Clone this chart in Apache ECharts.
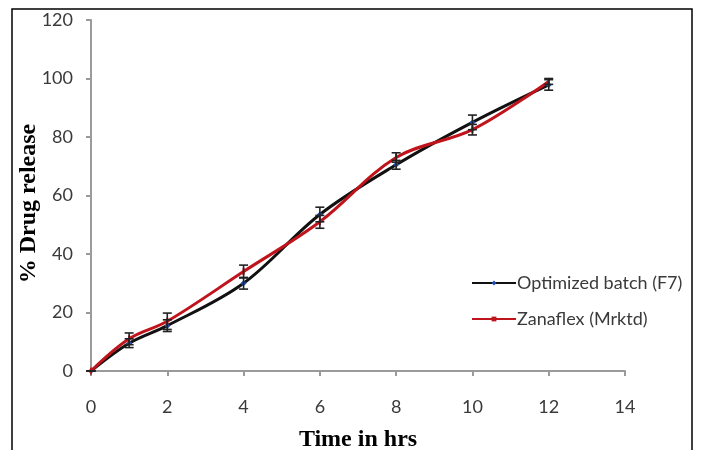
<!DOCTYPE html>
<html>
<head>
<meta charset="utf-8">
<style>
  html, body { margin: 0; padding: 0; background: #fff; }
  #chart { width: 701px; height: 450px; }
</style>
<script src="https://cdn.jsdelivr.net/npm/echarts@6/dist/echarts.min.js"></script>
</head>
<body>
<div id="chart"></div>
<script>
// Sampling times (hours)
const timeHrs = [0, 1, 2, 4, 6, 8, 10, 12];

// Cumulative % drug release, mean values
const optimizedF7 = [0, 9.5, 15.5, 30, 53.5, 70.5, 85, 97.8];
const zanaflex = [0, 11, 17, 34, 51, 73, 82.5, 99];

// Standard deviations for the error bars
const optimizedF7Sd = [0, 1.5, 2, 2, 2.5, 1.5, 2.5, 1.8];
const zanaflexSd = [0, 2, 2.8, 2.2, 2.2, 1.6, 1.8, 1];

// Series names
const seriesNames = ['Optimized batch (F7)', 'Zanaflex (Mrktd)'];

const chart = echarts.init(document.getElementById('chart'));

function pairs(xs, ys) {
  return xs.map((x, i) => [x, ys[i]]);
}

function errorTriples(xs, ys, sd) {
  return xs.map((x, i) => [x, ys[i] - sd[i], ys[i] + sd[i]]);
}

// Vertical error bar with caps
function renderErrorBar(params, api) {
  const x = api.value(0);
  const lo = api.coord([x, api.value(1)]);
  const hi = api.coord([x, api.value(2)]);
  const half = 4.5;
  const style = { stroke: '#222', lineWidth: 1.6 };
  return {
    type: 'group',
    children: [
      { type: 'line', shape: { x1: hi[0], y1: hi[1], x2: lo[0], y2: lo[1] }, style },
      { type: 'line', shape: { x1: hi[0] - half, y1: hi[1], x2: hi[0] + half, y2: hi[1] }, style },
      { type: 'line', shape: { x1: lo[0] - half, y1: lo[1], x2: lo[0] + half, y2: lo[1] }, style }
    ]
  };
}

const axisGray = '#9a9a9a';
const tickFont = { fontFamily: 'Lato', fontSize: 18, color: '#3a3a3a' };
const titleFont = { fontFamily: 'Liberation Serif', fontWeight: 'bold', fontSize: 24, color: '#000' };

chart.setOption({
  animation: false,
  backgroundColor: '#fff',
  grid: { left: 91, right: 76, top: 20, bottom: 79, containLabel: false, outerBoundsMode: 'none' },
  graphic: [
    {
      type: 'rect',
      shape: { x: 12, y: 9, width: 680, height: 460 },
      style: { fill: 'none', stroke: '#000', lineWidth: 1.5 },
      silent: true
    }
  ],
  legend: {
    orient: 'vertical',
    left: 466,
    top: 269,
    itemWidth: 44,
    itemHeight: 6,
    itemGap: 18,
    data: seriesNames,
    textStyle: { fontFamily: 'Lato', fontSize: 18, color: '#3a3a3a', padding: [0, 0, 0, -4] }
  },
  xAxis: {
    type: 'value',
    min: 0,
    max: 14,
    interval: 2,
    name: 'Time in hrs',
    nameLocation: 'middle',
    nameGap: 57,
    nameMoveOverlap: false,
    nameTextStyle: titleFont,
    axisLine: { lineStyle: { color: axisGray, width: 2 } },
    axisTick: { show: true, inside: false, length: 5, lineStyle: { color: axisGray, width: 2 } },
    axisLabel: Object.assign({ margin: 27 }, tickFont),
    splitLine: { show: false }
  },
  yAxis: {
    type: 'value',
    min: 0,
    max: 120,
    interval: 20,
    name: '% Drug release',
    nameLocation: 'middle',
    nameGap: 50,
    nameMoveOverlap: false,
    nameTextStyle: Object.assign({ padding: [0, 16, 0, 0] }, titleFont),
    axisLine: { show: true, lineStyle: { color: axisGray, width: 2 } },
    axisTick: { show: true, inside: false, length: 5, lineStyle: { color: axisGray, width: 2 } },
    axisLabel: Object.assign({ margin: 18 }, tickFont),
    splitLine: { show: false }
  },
  series: [
    {
      name: seriesNames[0],
      type: 'line',
      data: pairs(timeHrs, optimizedF7),
      smooth: 0.35,
      symbol: 'diamond',
      symbolSize: 6,
      showSymbol: true,
      lineStyle: { color: '#111', width: 3 },
      itemStyle: { color: '#1f4fb4', borderWidth: 0 },
      z: 2
    },
    {
      name: seriesNames[1],
      type: 'line',
      data: pairs(timeHrs, zanaflex),
      smooth: 0.35,
      symbol: 'rect',
      symbolSize: [2, 7],
      showSymbol: true,
      lineStyle: { color: '#c0141c', width: 3 },
      itemStyle: { color: '#c0141c', borderWidth: 0 },
      z: 3
    },
    {
      type: 'custom',
      name: 'sd-f7',
      renderItem: renderErrorBar,
      data: errorTriples(timeHrs, optimizedF7, optimizedF7Sd),
      encode: { x: 0, y: [1, 2] },
      z: 4,
      silent: true
    },
    {
      type: 'custom',
      name: 'sd-zanaflex',
      renderItem: renderErrorBar,
      data: errorTriples(timeHrs, zanaflex, zanaflexSd),
      encode: { x: 0, y: [1, 2] },
      z: 4,
      silent: true
    }
  ]
});
</script>
</body>
</html>
